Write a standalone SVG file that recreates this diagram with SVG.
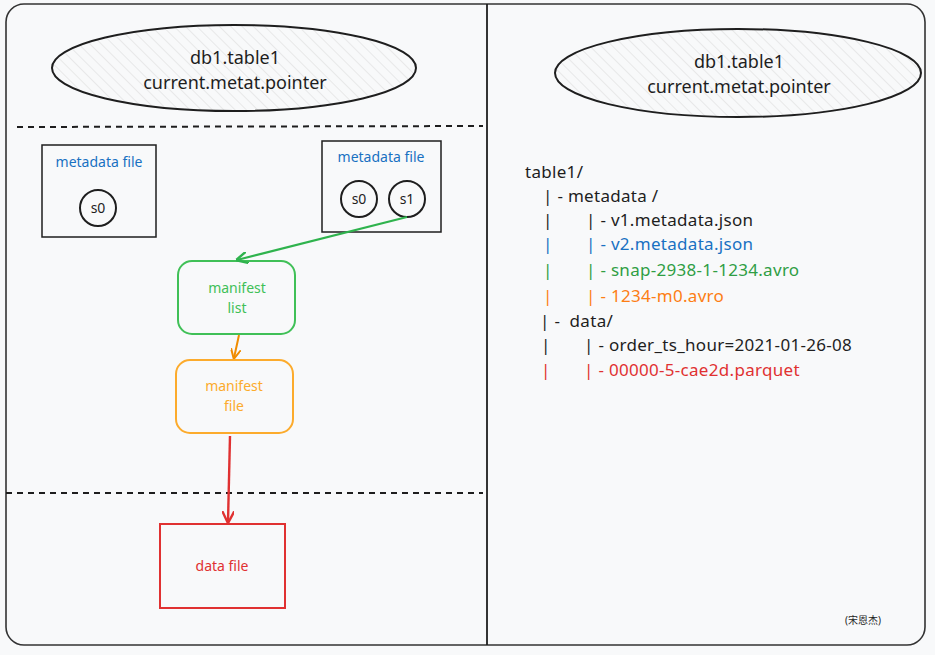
<svg xmlns="http://www.w3.org/2000/svg" width="935" height="655" viewBox="0 0 935 655">
<style>
text{font-family:"Noto Sans","Liberation Sans",sans-serif;}
.t{font-size:17px;fill:#1e1e1e;letter-spacing:0.3px;white-space:pre;}
.e{font-size:18px;fill:#1e1e1e;}
.c{text-anchor:middle;}
.blk{fill:none;stroke:#1e1e1e;stroke-width:1.5;}
.dash{stroke:#1e1e1e;stroke-width:2;stroke-dasharray:6 5;fill:none;}
.blue{fill:#1971c2;}
.green{fill:#2f9e44;}
.orange{fill:#fd7e14;}
.red{fill:#e03131;}
</style>
<defs>
<pattern id="hatch" patternUnits="userSpaceOnUse" width="8" height="8" patternTransform="rotate(-45)">
<line x1="0" y1="0" x2="0" y2="8" stroke="#d8d8d8" stroke-width="1"/>
</pattern>
<marker id="ag" viewBox="0 0 10 10" refX="9" refY="5" markerWidth="12" markerHeight="12" markerUnits="userSpaceOnUse" orient="auto"><path d="M0,0 L10,5 L0,10" fill="none" stroke="#2fb34d" stroke-width="2"/></marker>
<marker id="ao" viewBox="0 0 10 10" refX="9" refY="5" markerWidth="10" markerHeight="10" markerUnits="userSpaceOnUse" orient="auto"><path d="M0,0 L10,5 L0,10" fill="none" stroke="#f08c00" stroke-width="2"/></marker>
<marker id="ar" viewBox="0 0 10 10" refX="9" refY="5" markerWidth="12" markerHeight="12" markerUnits="userSpaceOnUse" orient="auto"><path d="M0,0 L10,5 L0,10" fill="none" stroke="#e03131" stroke-width="2"/></marker>
</defs>
<rect x="0" y="0" width="935" height="655" fill="#f8f9fa"/>
<g id="frame">
<rect x="6" y="4" width="919" height="641" rx="18" fill="#f8f9fa" stroke="#333" stroke-width="1.6"/>
<line x1="487" y1="4" x2="487" y2="645" stroke="#1e1e1e" stroke-width="1.8"/>
<line class="dash" x1="17" y1="127" x2="483" y2="126"/>
<line class="dash" x1="6" y1="493" x2="483" y2="493"/>
</g>
<g id="pointer-left">
<ellipse cx="234" cy="68" rx="182" ry="43" fill="url(#hatch)" stroke="#1e1e1e" stroke-width="2"/>
<text class="e c" x="235" y="64">db1.table1</text>
<text class="e c" x="235" y="89">current.metat.pointer</text>
</g>
<g id="pointer-right">
<ellipse cx="738" cy="73" rx="183" ry="44" fill="url(#hatch)" stroke="#1e1e1e" stroke-width="2"/>
<text class="e c" x="739" y="68">db1.table1</text>
<text class="e c" x="739" y="93">current.metat.pointer</text>
</g>
<g id="metadata-file-1">
<rect x="42" y="145" width="114" height="92" class="blk"/>
<text class="blue c" x="99" y="167" font-size="14">metadata file</text>
<circle cx="98" cy="208" r="18" fill="none" stroke="#1e1e1e" stroke-width="2"/>
<text class="c" x="98" y="213" font-size="14" fill="#1e1e1e">s0</text>
</g>
<g id="metadata-file-2">
<rect x="322" y="141" width="119" height="91" class="blk"/>
<text class="blue c" x="381" y="162" font-size="14">metadata file</text>
<circle cx="359" cy="199" r="18" fill="none" stroke="#1e1e1e" stroke-width="2"/>
<text class="c" x="359" y="204" font-size="14" fill="#1e1e1e">s0</text>
<circle cx="407" cy="199" r="18" fill="none" stroke="#1e1e1e" stroke-width="2"/>
<text class="c" x="407" y="204" font-size="14" fill="#1e1e1e">s1</text>
</g>
<g id="manifest-list">
<rect x="178" y="261" width="117" height="73" rx="14" fill="none" stroke="#40c057" stroke-width="2"/>
<text class="c" x="237" y="293" font-size="14" fill="#40c057">manifest</text>
<text class="c" x="237" y="313" font-size="14" fill="#40c057">list</text>
</g>
<g id="manifest-file">
<rect x="176" y="360" width="117" height="73" rx="14" fill="none" stroke="#fcab2c" stroke-width="2"/>
<text class="c" x="234" y="391" font-size="14" fill="#fcab2c">manifest</text>
<text class="c" x="234" y="411" font-size="14" fill="#fcab2c">file</text>
</g>
<g id="data-file">
<rect x="160" y="524" width="125" height="84" fill="none" stroke="#e03131" stroke-width="2"/>
<text class="c" x="222" y="571" font-size="14" fill="#e03131">data file</text>
</g>
<g id="connectors">
<line x1="407" y1="217" x2="237" y2="260" stroke="#2fb34d" stroke-width="2.2" marker-end="url(#ag)"/>
<line x1="239" y1="335" x2="234" y2="358" stroke="#f08c00" stroke-width="2" marker-end="url(#ao)"/>
<line x1="230" y1="436" x2="228" y2="522" stroke="#e03131" stroke-width="2.4" marker-end="url(#ar)"/>
</g>
<g id="tree">
<text class="t" x="525" y="178">table1/</text>
<text class="t" x="543" y="202">| - metadata /</text>
<text class="t" x="543" y="226">|</text><text class="t" x="586" y="226">| - v1.metadata.json</text>
<text class="t blue" x="543" y="250">|</text><text class="t blue" x="586" y="250">| - v2.metadata.json</text>
<text class="t green" x="543" y="276">|</text><text class="t green" x="586" y="276">| - snap-2938-1-1234.avro</text>
<text class="t orange" x="543" y="302">|</text><text class="t orange" x="586" y="302">| - 1234-m0.avro</text>
<text class="t" x="540" y="327">| -  data/</text>
<text class="t" x="541" y="351">|</text><text class="t" x="584" y="351">| - order_ts_hour=2021-01-26-08</text>
<text class="t red" x="541" y="376">|</text><text class="t red" x="584" y="376">| - 00000-5-cae2d.parquet</text>
</g>
<text x="845" y="624" font-size="10" fill="#1e1e1e" style="font-family:'Noto Sans','Noto Sans CJK SC',sans-serif">(宋恩杰)</text>
</svg>
